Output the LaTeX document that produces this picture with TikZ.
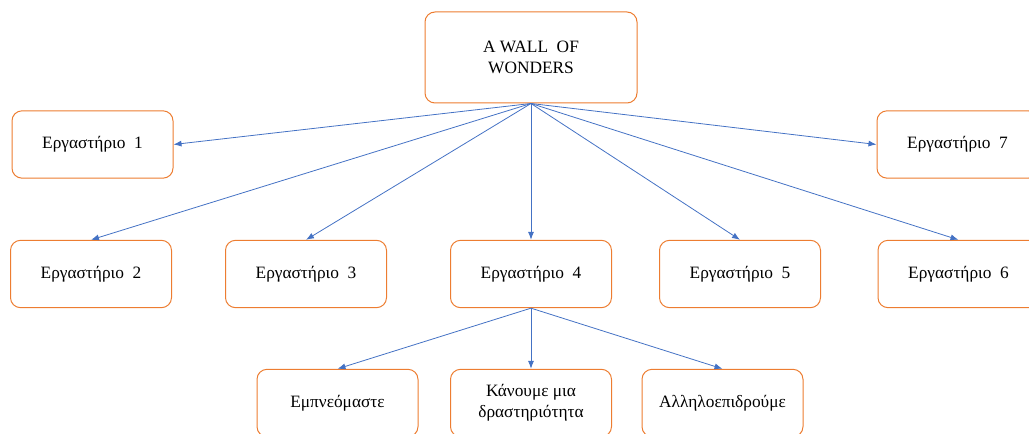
\documentclass[tikz,border=0pt]{standalone}
\usepackage{fontspec}
\setmainfont{Liberation Serif}
\usetikzlibrary{arrows.meta, positioning}
\definecolor{boxorange}{RGB}{237,125,49}
\definecolor{linkblue}{RGB}{68,114,196}
\tikzset{
    lab/.style = {rectangle, rounded corners=7.5pt, draw=boxorange, line width=0.75pt, fill=white, minimum width=120.75pt, minimum height=50.5pt, align=center, font=\fontsize{13}{15.5}\selectfont}, % one workshop box
    link/.style = {-{Latex[length=6pt, width=4.5pt]}, color=linkblue, line width=0.6pt}
}

\begin{document}
\begin{tikzpicture}[x=0.75pt, y=-0.75pt]
            \useasboundingbox (0,0) rectangle (1029,434);
            \node[lab, minimum width=159pt, minimum height=68.25pt] (wall) at (531,57.5) {A WALL\ \ OF\\WONDERS};
            \node[lab] (1) at (92.5,144.5) {Εργαστήριο\ \ 1};
            \node[lab] (7) at (957.5,144.5) {Εργαστήριο\ \ 7};
            \node[lab] (2) at (91,274) {Εργαστήριο\ \ 2};
            \node[lab] (3) at (306,274) {Εργαστήριο\ \ 3};
            \node[lab] (4) at (531,274) {Εργαστήριο\ \ 4};
            \node[lab] (5) at (740,274) {Εργαστήριο\ \ 5};
            \node[lab] (6) at (958.5,274) {Εργαστήριο\ \ 6};
            \node[lab] (a) at (337.5,403) {Εμπνεόμαστε};
            \node[lab] (b) at (531,403) {Κάνουμε μια\\δραστηριότητα};
            \node[lab] (c) at (722.5,403) {Αλληλοεπιδρούμε};
            \path[link] (wall.south) edge (1.east);
            \path[link] (wall.south) edge (7.west);
            \path[link] (wall.south) edge (2.north);
            \path[link] (wall.south) edge (3.north);
            \path[link] (wall.south) edge (4.north);
            \path[link] (wall.south) edge (5.north);
            \path[link] (wall.south) edge (6.north);
            \path[link] (4.south) edge (a.north);
            \path[link] (4.south) edge (b.north);
            \path[link] (4.south) edge (c.north);
        \end{tikzpicture}
\end{document}
